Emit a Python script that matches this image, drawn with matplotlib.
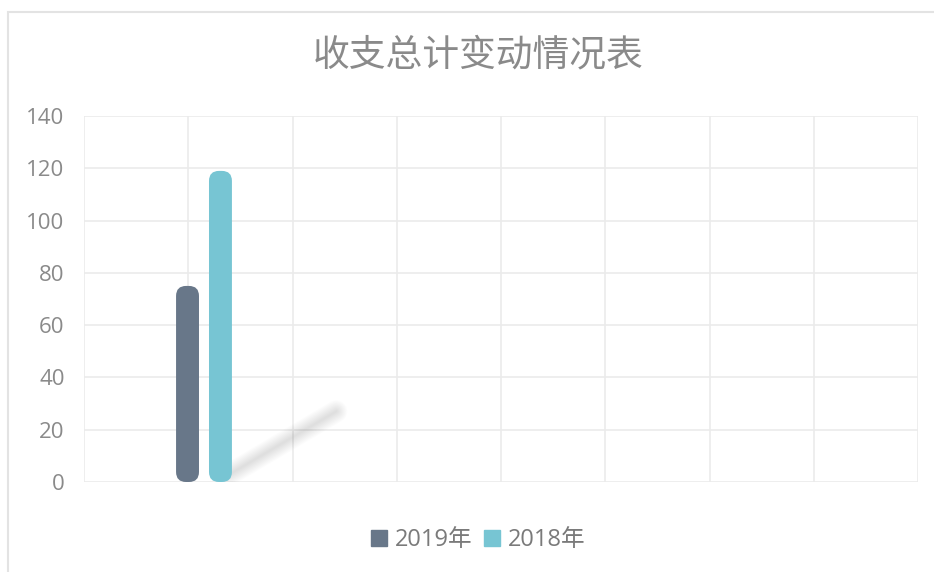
import numpy as np
import matplotlib
matplotlib.use("Agg")
import matplotlib.pyplot as plt
from matplotlib.patches import FancyBboxPatch, Rectangle

plt.rcParams['font.family'] = ['Open Sans', 'Noto Sans CJK SC', 'DejaVu Sans']

title = "收支总计变动情况表"
series = ["2019年", "2018年"]
values = [75, 119]
colors = ["#687789", "#77C5D3"]
# bar centres along the (unlabelled) x axis, 8 grid cells
bar_x = [0.993, 1.309]
bar_w = 0.22
yticks = [0, 20, 40, 60, 80, 100, 120, 140]

fig = plt.figure(figsize=(9.34, 5.72), dpi=100)
ax = fig.add_axes([84/934, 1-482/572, 834/934, 366/572])
ax.set_xlim(0, 8)
ax.set_ylim(0, 140)

# grid
ax.set_yticks(yticks)
ax.set_xticks(np.arange(0, 9))
ax.set_xticklabels([])
ax.grid(True, color="#ebebeb", lw=1.2)
ax.set_axisbelow(True)
for s in ax.spines.values():
    s.set_visible(False)
ax.tick_params(length=0, labelsize=16, labelcolor="#8a8a8a", pad=14)

# px -> data scale for rounded corners
xpp = 8/834.
ypp = 140/366.
r = 10*xpp

# soft shadow behind bars
sx, sy = bar_x[1] + bar_w/2, 1.0
for k in range(16):
    w = (k+1)*1.0
    ax.plot([sx - 0.02, sx + 1.0], [sy + 2, sy + 26], color="#a0a0a0",
            lw=w, alpha=0.02, solid_capstyle="round", zorder=1)

for x, v, c, lab in zip(bar_x, values, colors, series):
    p = FancyBboxPatch((x - bar_w/2, 0), bar_w, v,
                       boxstyle="round,pad=0,rounding_size=%f" % r,
                       mutation_aspect=ypp/xpp, fc=c, ec="none", zorder=3)
    ax.add_patch(p)
    ax.plot([], [], "s", color=c, ms=11, label=lab)

leg = fig.legend(loc="center", bbox_to_anchor=(478/934, 1-540/572), ncol=2,
                 frameon=False, fontsize=17, handlelength=0.7,
                 handletextpad=0.3, columnspacing=0.5)
for t in leg.get_texts():
    t.set_color("#7a7a7a")

fig.text(478/934, 1-55/572, title, ha="center", va="center", fontsize=26.5,
         color="#8a8a8a", family=['Noto Sans CJK SC', 'DejaVu Sans'],
         fontweight="light")

# outer frame
fig.add_artist(Rectangle((8/934, -0.1), 1.2, 1-12/572+0.1, transform=fig.transFigure,
                         fill=False, ec="#e3e3e3", lw=1.5))

fig.savefig("out.png", dpi=100)
